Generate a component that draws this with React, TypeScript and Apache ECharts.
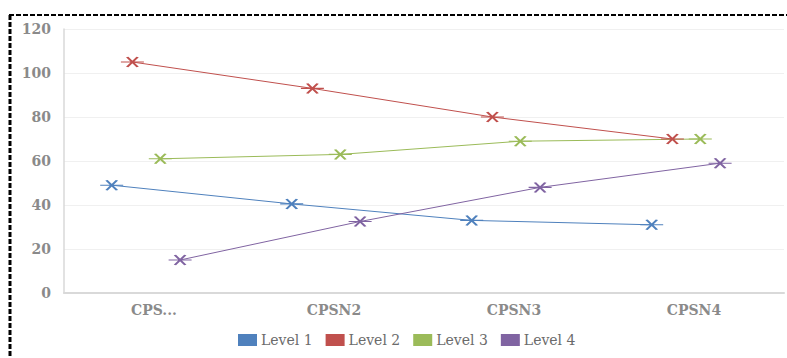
import React, { useEffect, useRef } from "react";
import * as echarts from "echarts";

// Category names shown under the x axis
const categories = ["CPS...", "CPSN2", "CPSN3", "CPSN4"];

// Values per level, one entry per category
const level1 = [49, 40.5, 33, 31];
const level2 = [105, 93, 80, 70];
const level3 = [61, 63, 69, 70];
const level4 = [15, 32.5, 48, 59];

const seriesNames = ["Level 1", "Level 2", "Level 3", "Level 4"];
const seriesColors = ["#4f81bd", "#c0504d", "#9bbb59", "#8064a2"];

// Horizontal shift of each level inside a category band (in band units)
const bandOffsets = [-0.235, -0.12, 0.035, 0.145];

const yTicks = [0, 20, 40, 60, 80, 100, 120];

// Cross with a horizontal bar through it
const markerSymbol = "path://M6,1 L16,9 M16,1 L6,9 M0,5 L22,5";

export default function App() {
  const ref = useRef<HTMLDivElement>(null);

  useEffect(() => {
    if (!ref.current) return;
    const chart = echarts.init(ref.current, null, { renderer: "svg" });
    const allLevels = [level1, level2, level3, level4];
    const labelFont = "DejaVu Serif";

    const series = allLevels.map((vals, s) => ({
      name: seriesNames[s],
      type: "line",
      xAxisIndex: 1,
      yAxisIndex: 0,
      data: vals.map((v, i) => [i + 0.5 + bandOffsets[s], v]),
      symbol: markerSymbol,
      symbolSize: [23, 10],
      showSymbol: true,
      lineStyle: { color: seriesColors[s], width: 1 },
      itemStyle: {
        color: seriesColors[s],
        borderColor: seriesColors[s],
        borderWidth: 1.7,
      },
      emphasis: { disabled: true },
    }));

    chart.setOption({
      animation: false,
      backgroundColor: "#ffffff",
      grid: { left: 64, right: 3, top: 29, bottom: 65, containLabel: false },
      legend: {
        data: seriesNames,
        left: 233,
        top: 328,
        icon: "rect",
        itemWidth: 17,
        itemHeight: 10,
        itemGap: 13,
        textStyle: { fontFamily: labelFont, fontSize: 14, color: "#6b6b6b" },
      },
      xAxis: [
        {
          type: "category",
          data: categories,
          boundaryGap: true,
          axisLine: { show: true, lineStyle: { color: "#d9d9d9", width: 2 } },
          axisTick: { show: false },
          axisLabel: {
            margin: 10,
            fontFamily: labelFont,
            fontSize: 14,
            fontWeight: "bold",
            color: "#8a8a8a",
          },
          splitLine: { show: false },
        },
        {
          type: "value",
          min: 0,
          max: categories.length,
          show: false,
          splitLine: { show: false },
        },
      ],
      yAxis: {
        type: "value",
        min: yTicks[0],
        max: yTicks[yTicks.length - 1],
        interval: 20,
        axisLine: { show: true, lineStyle: { color: "#d9d9d9", width: 1.5 } },
        axisTick: { show: false },
        axisLabel: {
          margin: 13,
          fontFamily: labelFont,
          fontSize: 14,
          fontWeight: "bold",
          color: "#8a8a8a",
        },
        splitLine: { show: true, lineStyle: { color: "#f0f0f0", width: 1 } },
      },
      series,
      graphic: [
        {
          type: "line",
          shape: { x1: 9, y1: 15, x2: 787, y2: 15 },
          style: { stroke: "#000", lineWidth: 2, lineDash: [5, 2] },
          silent: true,
        },
        {
          type: "line",
          shape: { x1: 10, y1: 15, x2: 10, y2: 358 },
          style: { stroke: "#000", lineWidth: 3, lineDash: [5, 2] },
          silent: true,
        },
      ],
    });

    return () => chart.dispose();
  }, []);

  return (
    <div
      ref={ref}
      style={{ position: "fixed", left: 0, top: 0, width: 787, height: 358 }}
    />
  );
}
